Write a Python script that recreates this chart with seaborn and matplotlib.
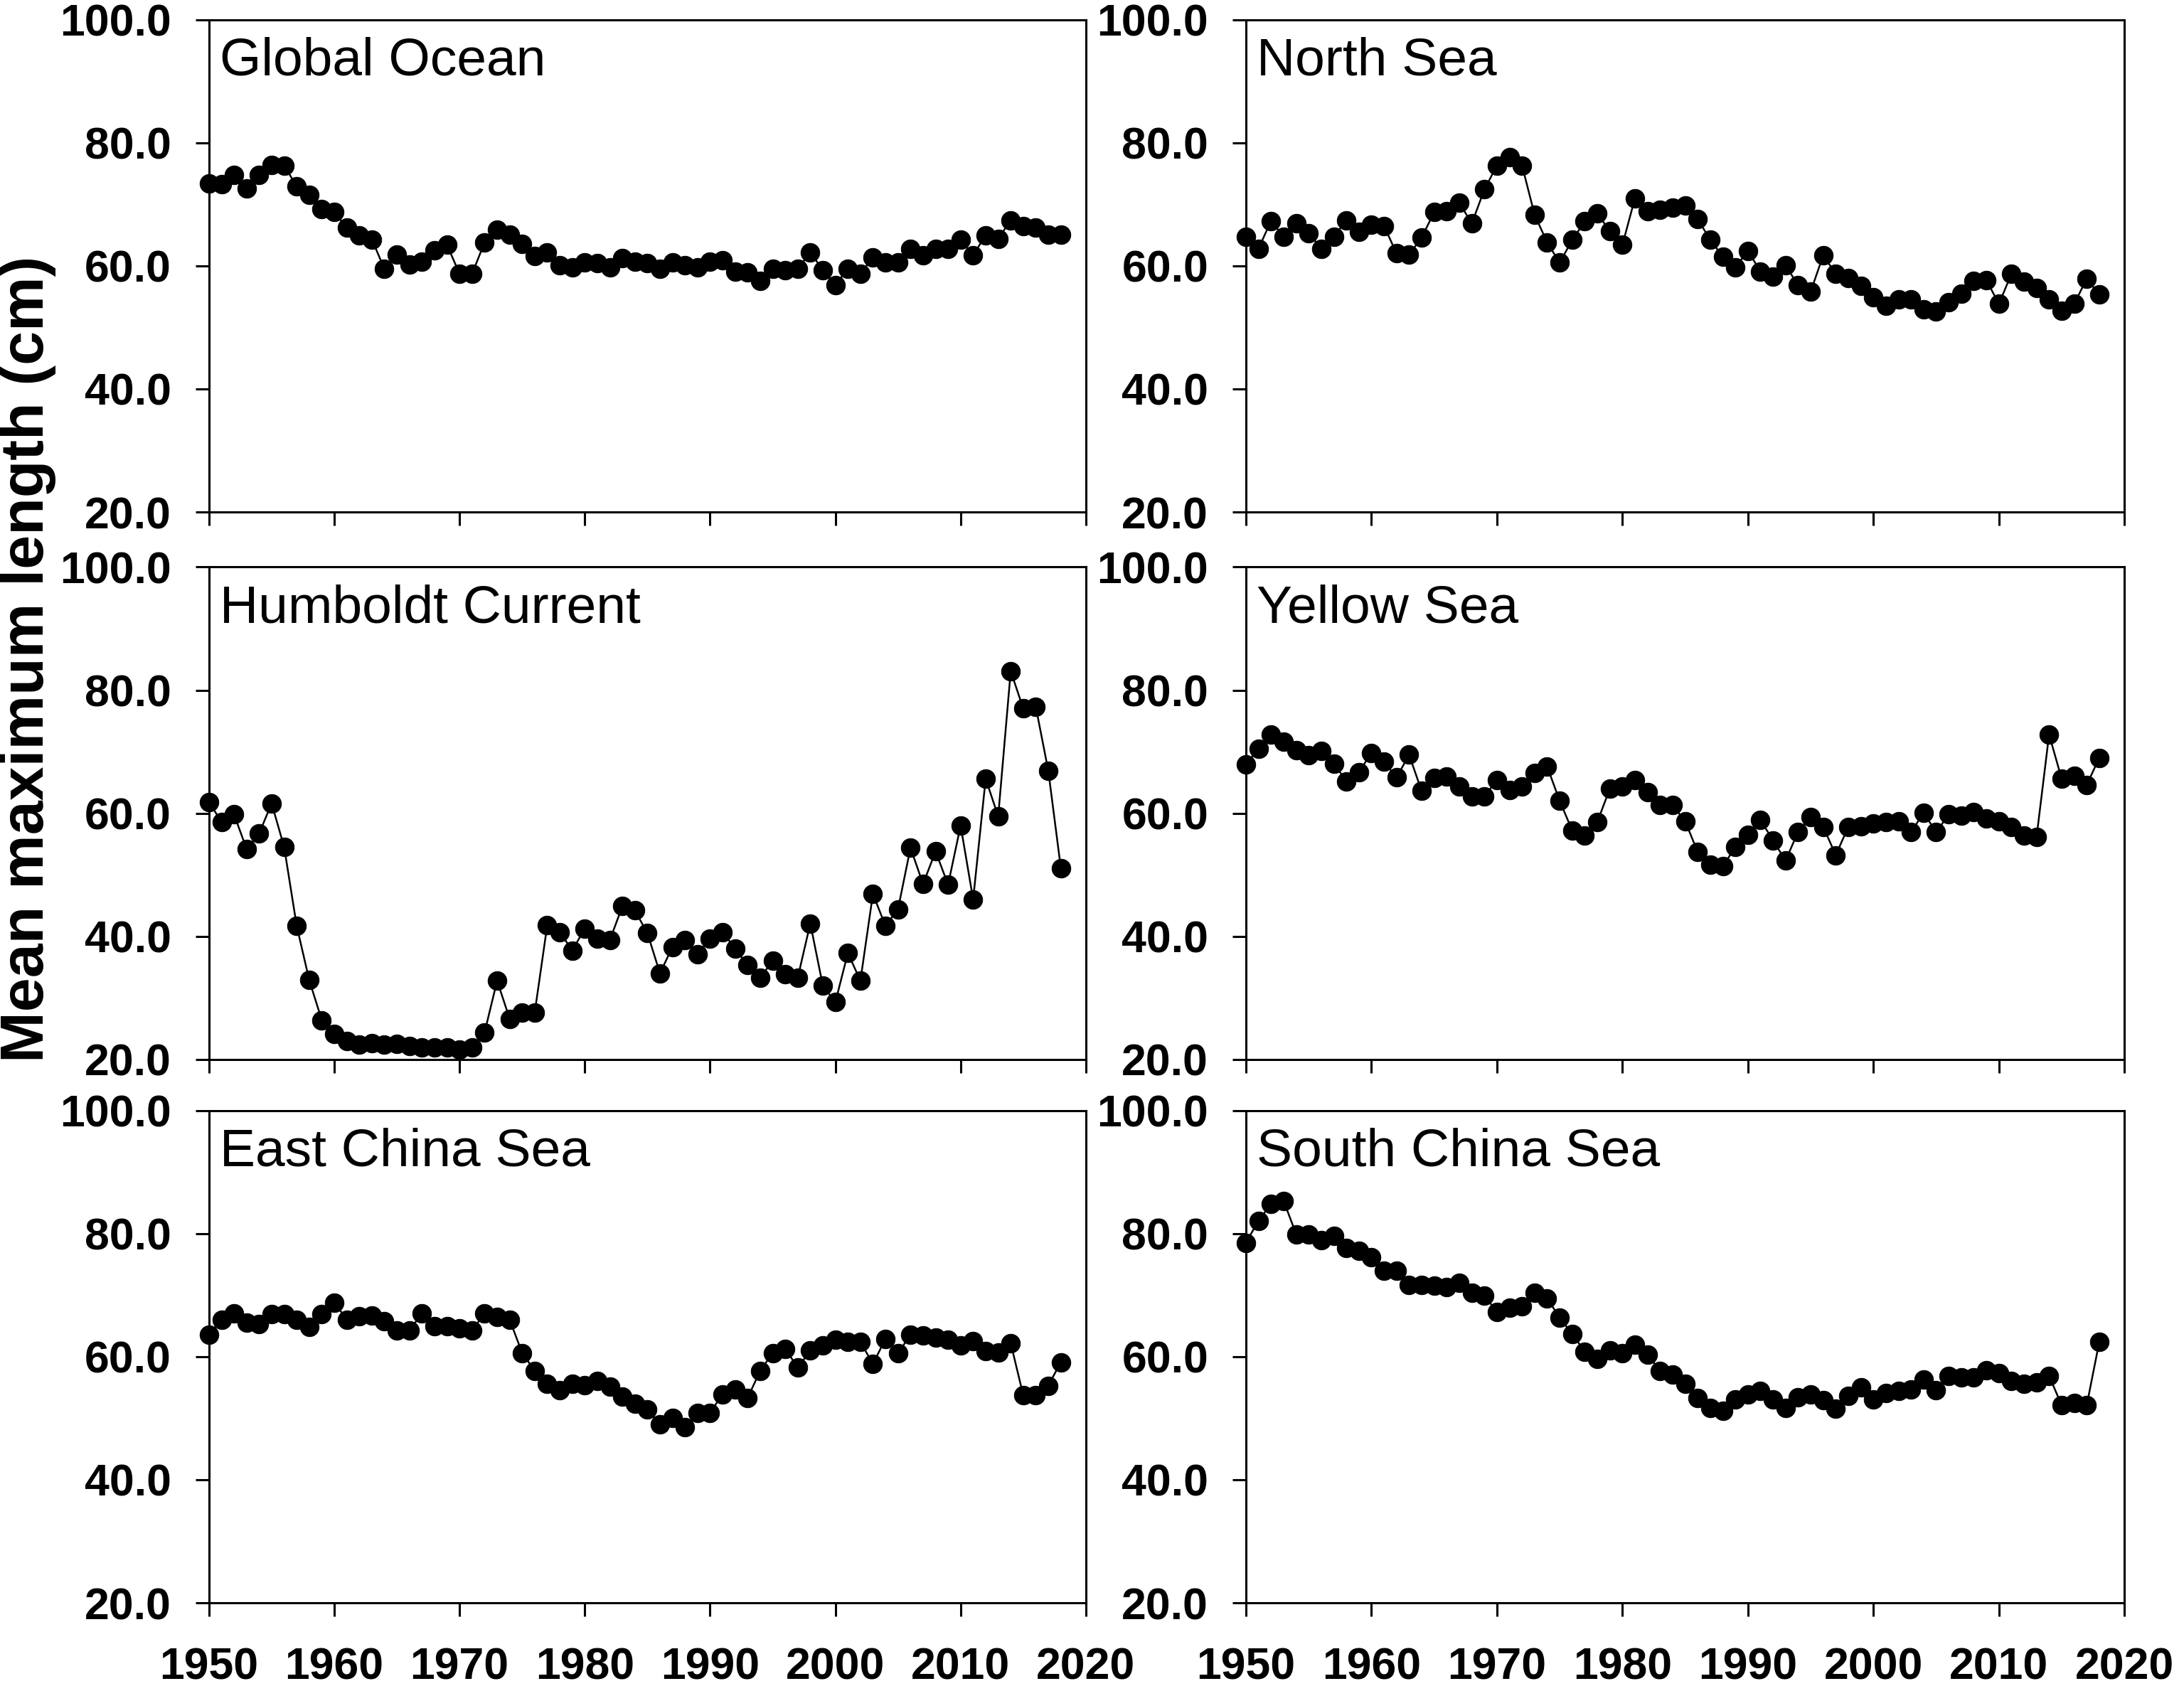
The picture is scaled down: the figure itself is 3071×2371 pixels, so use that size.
import numpy as np
import pandas as pd
import matplotlib
matplotlib.use("Agg")
import matplotlib.pyplot as plt
import seaborn as sns

years = list(range(1950, 2019))

global_ocean = [73.4, 73.3, 74.8, 72.6, 74.8, 76.4, 76.3, 72.9, 71.5, 69.2,
                68.7, 66.2, 65.0, 64.3, 59.5, 61.8, 60.2, 60.7, 62.5, 63.4,
                58.7, 58.7, 63.8, 65.9, 65.1, 63.5, 61.6, 62.2, 60.1, 59.8,
                60.5, 60.4, 59.8, 61.3, 60.7, 60.4, 59.5, 60.5, 60.1, 59.8,
                60.7, 60.9, 59.1, 58.9, 57.6, 59.5, 59.3, 59.5, 62.2, 59.3,
                56.9, 59.5, 58.7, 61.4, 60.6, 60.5, 62.8, 61.7, 62.8, 62.7,
                64.2, 61.7, 65.0, 64.4, 67.4, 66.4, 66.2, 65.1, 65.1]

north_sea = [64.7, 62.8, 67.3, 64.7, 66.9, 65.3, 62.8, 64.7, 67.4, 65.5,
             66.7, 66.5, 62.0, 61.8, 64.6, 68.7, 68.9, 70.2, 66.9, 72.4,
             76.3, 77.6, 76.3, 68.3, 63.8, 60.5, 64.2, 67.2, 68.5, 65.6,
             63.4, 71.0, 68.9, 69.1, 69.5, 69.8, 67.6, 64.2, 61.5, 59.8,
             62.4, 59.1, 58.2, 60.1, 56.8, 55.8, 61.7, 58.7, 58.0, 56.7,
             54.9, 53.5, 54.5, 54.5, 52.9, 52.6, 54.1, 55.5, 57.5, 57.7,
             53.8, 58.7, 57.4, 56.4, 54.6, 52.7, 53.8, 57.9, 55.3]

humboldt = [61.8, 58.6, 59.8, 54.2, 56.7, 61.6, 54.5, 41.7, 32.9, 26.4,
            24.1, 23.0, 22.4, 22.6, 22.4, 22.5, 22.2, 22.0, 21.9, 21.9,
            21.6, 21.9, 24.4, 32.8, 26.6, 27.6, 27.6, 41.8, 40.7, 37.7,
            41.3, 39.6, 39.4, 44.9, 44.2, 40.5, 34.0, 38.3, 39.4, 37.1,
            39.6, 40.7, 38.0, 35.3, 33.3, 36.0, 33.8, 33.3, 42.1, 32.0,
            29.3, 37.3, 32.8, 46.9, 41.7, 44.4, 54.4, 48.5, 53.8, 48.4,
            58.0, 46.0, 65.6, 59.5, 83.1, 77.0, 77.3, 66.9, 51.1]

yellow_sea = [67.9, 70.5, 72.8, 71.6, 70.2, 69.4, 70.1, 68.1, 65.2, 66.7,
              69.8, 68.4, 65.8, 69.5, 63.6, 65.7, 66.0, 64.3, 62.7, 62.7,
              65.4, 63.8, 64.3, 66.5, 67.6, 62.0, 57.2, 56.4, 58.6, 64.0,
              64.3, 65.4, 63.4, 61.3, 61.3, 58.7, 53.7, 51.7, 51.4, 54.5,
              56.5, 58.9, 55.6, 52.3, 57.0, 59.4, 57.8, 53.2, 57.8, 57.9,
              58.3, 58.6, 58.7, 56.9, 60.1, 56.9, 59.8, 59.6, 60.2, 59.2,
              58.7, 57.8, 56.4, 56.1, 72.8, 65.6, 66.1, 64.6, 69.0]

east_china_sea = [63.6, 66.0, 67.0, 65.5, 65.3, 66.9, 66.9, 66.0, 64.8, 66.9,
                  68.8, 66.0, 66.6, 66.7, 65.8, 64.3, 64.3, 67.0, 64.9, 64.9,
                  64.6, 64.3, 67.0, 66.5, 66.0, 60.6, 57.7, 55.6, 54.5, 55.6,
                  55.4, 56.1, 55.1, 53.5, 52.3, 51.4, 49.0, 50.0, 48.5, 50.9,
                  50.9, 53.9, 54.7, 53.3, 57.7, 60.6, 61.3, 58.2, 61.0, 61.8,
                  62.8, 62.4, 62.4, 58.8, 62.9, 60.5, 63.6, 63.5, 63.1, 62.7,
                  61.8, 62.5, 60.9, 60.7, 62.2, 53.7, 53.7, 55.3, 59.1]

south_china_sea = [78.5, 82.1, 84.8, 85.3, 79.9, 79.9, 78.9, 79.6, 77.7, 77.2,
                   76.1, 73.9, 73.9, 71.6, 71.6, 71.5, 71.3, 72.0, 70.4, 69.9,
                   67.3, 68.0, 68.2, 70.4, 69.5, 66.3, 63.7, 60.8, 59.6, 61.0,
                   60.6, 61.9, 60.3, 57.7, 57.1, 55.6, 53.3, 51.7, 51.2, 53.0,
                   53.9, 54.4, 53.0, 51.7, 53.4, 53.9, 52.9, 51.6, 53.6, 55.0,
                   53.0, 54.1, 54.4, 54.7, 56.3, 54.5, 56.9, 56.6, 56.6, 57.8,
                   57.3, 56.0, 55.6, 55.8, 56.9, 52.1, 52.5, 52.1, 62.4]

regions = ["Global Ocean", "North Sea", "Humboldt Current",
           "Yellow Sea", "East China Sea", "South China Sea"]
series = [global_ocean, north_sea, humboldt,
          yellow_sea, east_china_sea, south_china_sea]

y_ticks = [20, 40, 60, 80, 100]
x_ticks = [1950, 1960, 1970, 1980, 1990, 2000, 2010, 2020]

df = pd.concat([pd.DataFrame({"year": years, "length": vals, "region": name})
                for name, vals in zip(regions, series)], ignore_index=True)

sns.set_style("ticks")
plt.rcParams["font.family"] = ["Liberation Sans", "DejaVu Sans"]
plt.rcParams.update({
    "text.color": "black",
    "axes.labelcolor": "black",
    "axes.edgecolor": "black",
    "xtick.color": "black",
    "ytick.color": "black",
    "axes.linewidth": 2.2,
    "xtick.major.width": 2.2,
    "ytick.major.width": 2.2,
    "xtick.major.size": 14,
    "ytick.major.size": 14,
    "xtick.direction": "out",
    "ytick.direction": "out",
})

fig = plt.figure(figsize=(30.71, 23.71), dpi=100)

col_x = [0.0957, 0.5705]
col_w = [0.4015, 0.4022]
row_y = [0.6963, 0.3716, 0.0493]
row_h = 0.2921

for i, name in enumerate(regions):
    r, c = divmod(i, 2)
    ax = fig.add_axes([col_x[c], row_y[r], col_w[c], row_h])
    sub = df[df["region"] == name]
    sns.lineplot(data=sub, x="year", y="length", ax=ax, color="black",
                 linewidth=1.8, marker="o", markersize=19,
                 markeredgecolor="black", markerfacecolor="black",
                 clip_on=False)
    ax.set_xlim(1950, 2020)
    ax.set_ylim(20, 100)
    ax.set_yticks(y_ticks)
    ax.set_yticklabels([f"{v:.1f}" for v in y_ticks],
                       fontsize=45, fontweight="bold", color="black")
    ax.set_xticks(x_ticks)
    if r == 2:
        ax.set_xticklabels([str(v) for v in x_ticks],
                           fontsize=45, fontweight="bold", color="black")
    else:
        ax.set_xticklabels([])
    ax.tick_params(axis="y", pad=24)
    ax.tick_params(axis="x", pad=30)
    ax.set_xlabel("")
    ax.set_ylabel("")
    for s in ax.spines.values():
        s.set_visible(True)
        s.set_color("black")
    ax.text(0.012, 0.965, name, transform=ax.transAxes, fontsize=54,
            ha="left", va="top", color="black")

fig.text(0.0127, 0.609, "Mean maximum length (cm)", rotation=90,
         fontsize=62, fontweight="bold", ha="center", va="center",
         color="black")

fig.savefig("out.png", dpi=100)
